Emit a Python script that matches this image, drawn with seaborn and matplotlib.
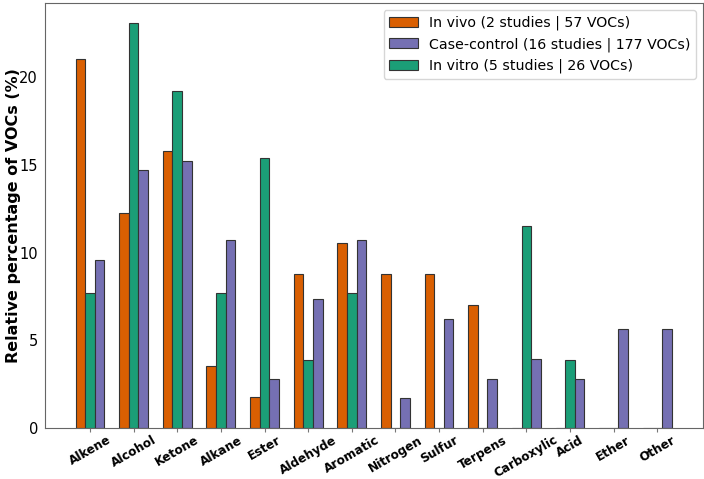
import pandas as pd
import numpy as np
import matplotlib
matplotlib.use('Agg')
import matplotlib.pyplot as plt
import seaborn as sns

# Data (relative percentage of VOCs per chemical class)
classes = ['Alkene', 'Alcohol', 'Ketone', 'Alkane', 'Ester', 'Aldehyde', 'Aromatic',
           'Nitrogen', 'Sulfur', 'Terpens', 'Carboxylic', 'Acid', 'Ether', 'Other']
in_vivo = [21.05, 12.28, 15.79, 3.51, 1.75, 8.77, 10.53, 8.77, 8.77, 7.02, 0, 0, 0, 0]
in_vitro = [7.69, 23.08, 19.23, 7.69, 15.38, 3.85, 7.69, 0, 0, 0, 11.54, 3.85, 0, 0]
case_control = [9.60, 14.69, 15.25, 10.73, 2.82, 7.34, 10.73, 1.69, 6.21, 2.82, 3.95, 2.82, 5.65, 5.65]

lbl_vivo = 'In vivo (2 studies | 57 VOCs)'
lbl_vitro = 'In vitro (5 studies | 26 VOCs)'
lbl_case = 'Case-control (16 studies | 177 VOCs)'

df = pd.DataFrame({
    'Class': classes * 3,
    'Study': [lbl_vivo] * len(classes) + [lbl_vitro] * len(classes) + [lbl_case] * len(classes),
    'Pct': in_vivo + in_vitro + case_control,
})

palette = {lbl_vivo: '#d95f02', lbl_vitro: '#1b9e77', lbl_case: '#7570b3'}

sns.set_style('white', {'text.color': 'black', 'axes.labelcolor': 'black',
                        'xtick.color': 'black', 'ytick.color': 'black'})
fig, ax = plt.subplots(figsize=(7.04, 4.79), dpi=100)
sns.barplot(data=df, x='Class', y='Pct', hue='Study',
            hue_order=[lbl_vivo, lbl_vitro, lbl_case], palette=palette,
            width=0.66, gap=0, edgecolor='#333333', linewidth=0.8,
            saturation=1, ax=ax)

ax.set_xlim(-1.03, 14.05)
ax.set_ylim(0, 24.25)
ax.set_xlabel('')
ax.set_ylabel('Relative percentage of VOCs (%)', fontsize=11.5, fontweight='bold')
ax.tick_params(axis='x', bottom=True, length=3, color='#777777', pad=1)
ax.tick_params(axis='y', labelsize=10.5, length=0, pad=5)
plt.setp(ax.get_xticklabels(), rotation=30, fontsize=8.7, fontweight='bold')
for s in ax.spines.values():
    s.set_color('#666666')
# y label sits just left of the tick labels
ax.yaxis.set_label_coords(-0.037, 0.5)

# legend order: In vivo, Case-control, In vitro
handles, labels = ax.get_legend_handles_labels()
order = [labels.index(lbl_vivo), labels.index(lbl_case), labels.index(lbl_vitro)]
ax.legend([handles[i] for i in order], [labels[i] for i in order],
          loc='upper right', fontsize=10.2, title=None)

fig.subplots_adjust(left=0.064, right=0.9986, top=0.994, bottom=0.1065)
fig.savefig('out.png', dpi=100)
